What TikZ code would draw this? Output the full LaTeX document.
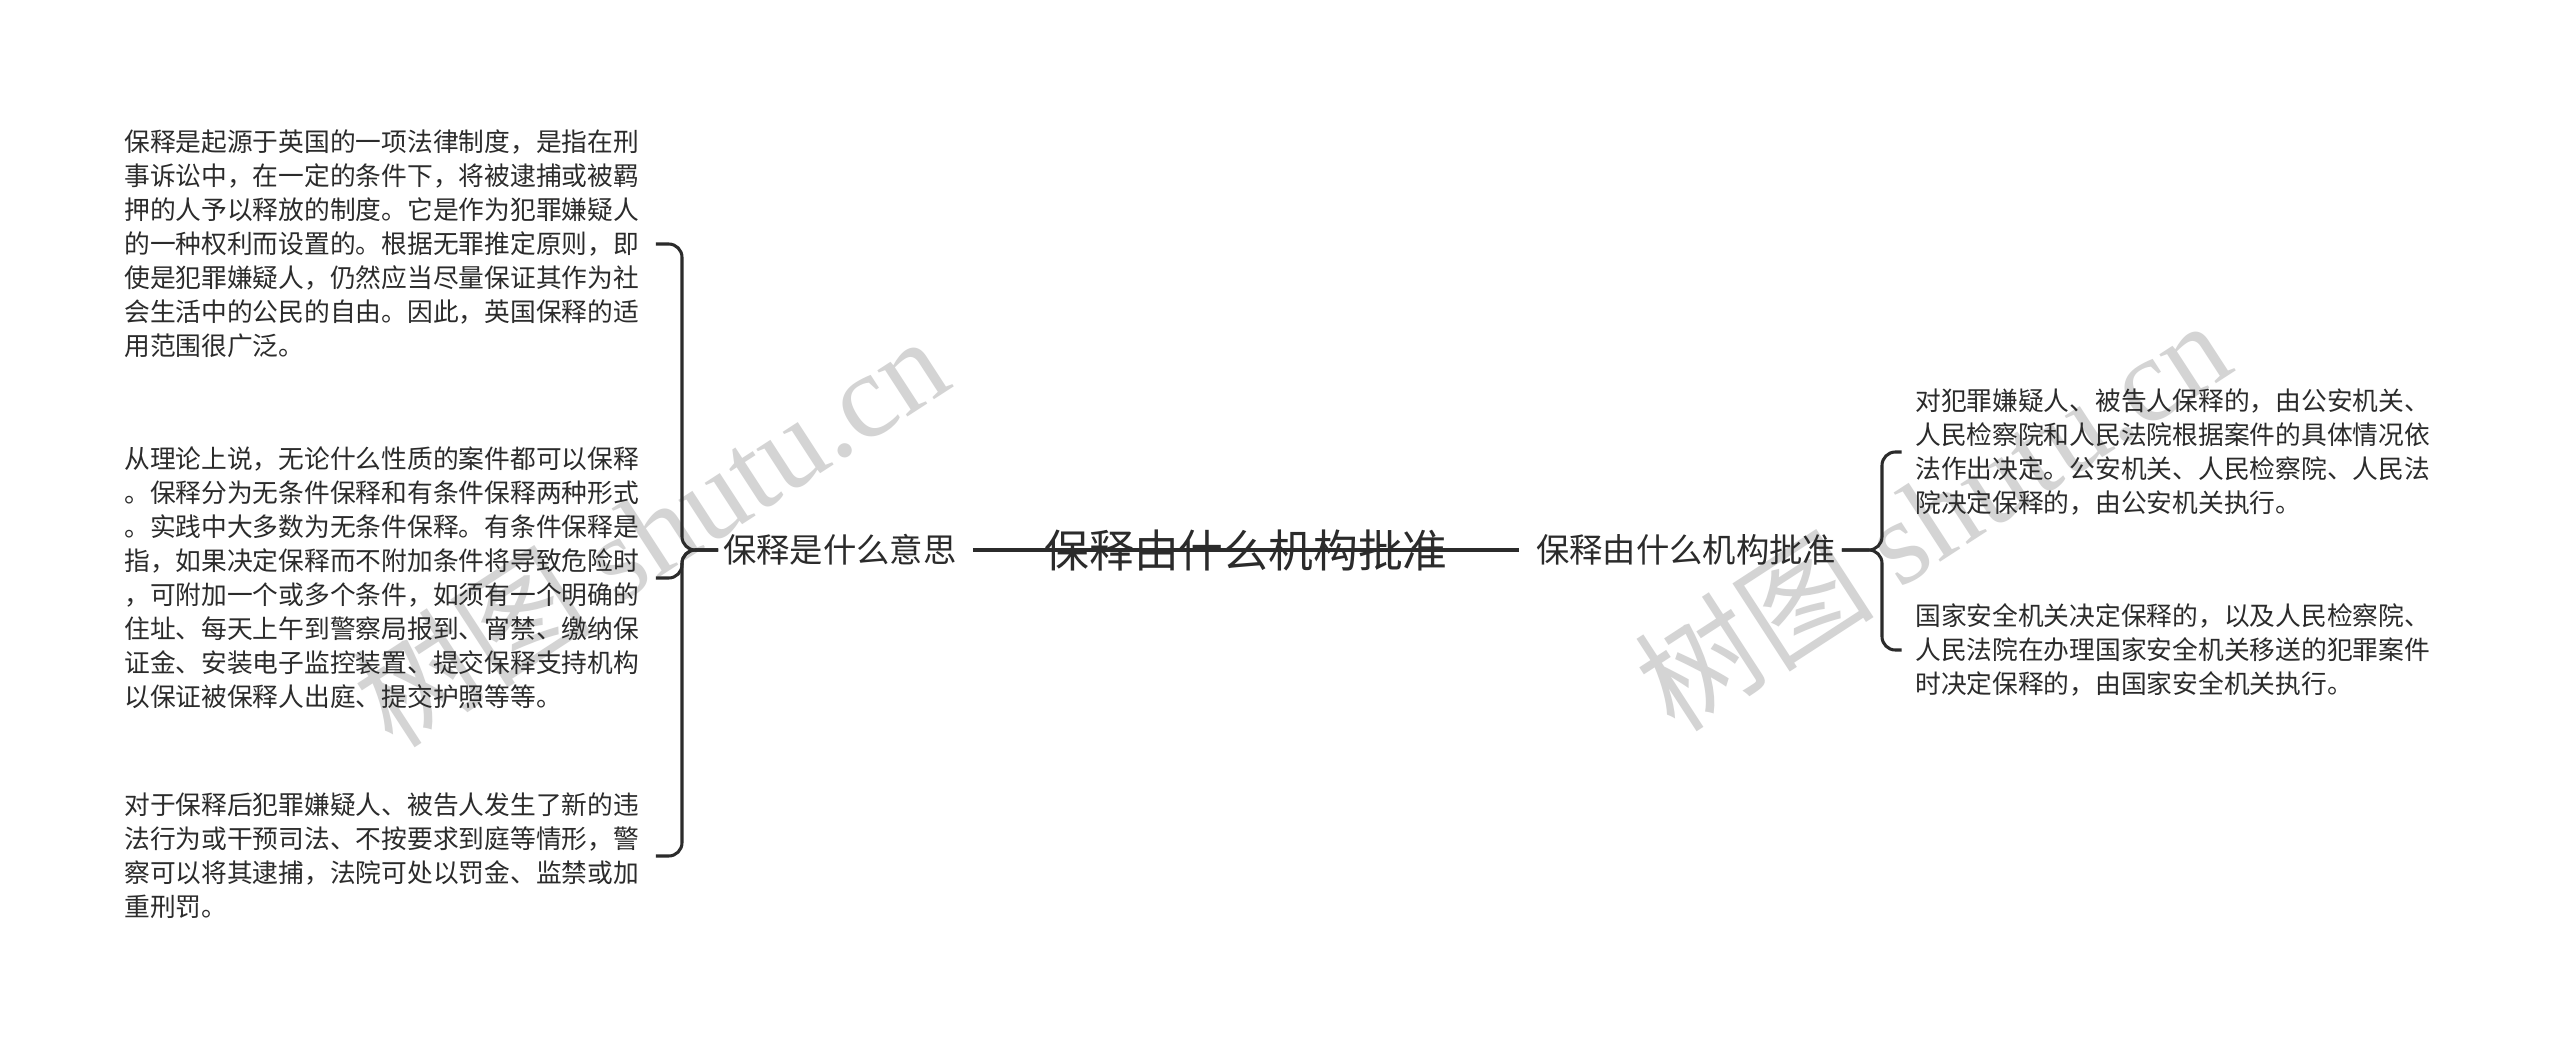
\documentclass[tikz,border=0pt]{standalone}
\usepackage{fontspec}
\setmainfont{Noto Sans CJK SC}
\newfontfamily\wmserif{Liberation Serif}
\definecolor{ink}{HTML}{2B2B2B}
\definecolor{wm}{HTML}{D4D4D4}
\tikzset{
  conn/.style={draw=ink, line width=2.3pt, rounded corners=10pt},
  leaf/.style={inner sep=0pt, align=left, text=ink, font=\fontsize{19.3pt}{25.5pt}\selectfont},
  branch/.style={inner sep=0pt, text=ink, font=\fontsize{25pt}{30pt}\selectfont},
  rootnode/.style={inner sep=0pt, text=ink, font=\fontsize{33.6pt}{40pt}\selectfont},
  wmark/.style={inner sep=0pt, text=wm, rotate=33, font=\fontsize{90pt}{94pt}\selectfont}
}
\begin{document}
\begin{tikzpicture}[x=0.75pt,y=-0.75pt]
\useasboundingbox (0,0) rectangle (2560,1049);
\fill[white] (0,0) rectangle (2560,1049);

% watermarks
\node[wmark] (wm1) at (650,530) {树图 {\wmserif shutu.cn}};
\node[wmark] (wm2) at (1932,514) {树图 {\wmserif shutu.cn}};

% root and branches
\node[rootnode] (T) at (1246,550) {保释由什么机构批准};
\node[branch, anchor=west] (L) at (723,550) {保释是什么意思};
\node[branch, anchor=west] (R) at (1536,550) {保释由什么机构批准};

% left leaves
\node[leaf, anchor=west] (c1) at (124,244) {保释是起源于英国的一项法律制度，是指在刑\\事诉讼中，在一定的条件下，将被逮捕或被羁\\押的人予以释放的制度。它是作为犯罪嫌疑人\\的一种权利而设置的。根据无罪推定原则，即\\使是犯罪嫌疑人，仍然应当尽量保证其作为社\\会生活中的公民的自由。因此，英国保释的适\\用范围很广泛。};
\node[leaf, anchor=west] (c2) at (124,578) {从理论上说，无论什么性质的案件都可以保释\\。保释分为无条件保释和有条件保释两种形式\\。实践中大多数为无条件保释。有条件保释是\\指，如果决定保释而不附加条件将导致危险时\\，可附加一个或多个条件，如须有一个明确的\\住址、每天上午到警察局报到、宵禁、缴纳保\\证金、安装电子监控装置、提交保释支持机构\\以保证被保释人出庭、提交护照等等。};
\node[leaf, anchor=west] (c3) at (124,856) {对于保释后犯罪嫌疑人、被告人发生了新的违\\法行为或干预司法、不按要求到庭等情形，警\\察可以将其逮捕，法院可处以罚金、监禁或加\\重刑罚。};

% right leaves
\node[leaf, anchor=west] (r1) at (1915,452) {对犯罪嫌疑人、被告人保释的，由公安机关、\\人民检察院和人民法院根据案件的具体情况依\\法作出决定。公安机关、人民检察院、人民法\\院决定保释的，由公安机关执行。};
\node[leaf, anchor=west] (r2) at (1915,650) {国家安全机关决定保释的，以及人民检察院、\\人民法院在办理国家安全机关移送的犯罪案件\\时决定保释的，由国家安全机关执行。};

% bracket points
\coordinate (lb) at (682,550);
\coordinate (rb) at (1882,550);

% root line through the title
\draw[conn] ([xshift=12pt]L.east) -- ([xshift=-13pt]R.west);

% left connectors
\draw[conn] ([xshift=-3.75pt]L.west) -- (lb) |- ([xshift=12.5pt]c1.east);
\draw[conn] ([xshift=-3.75pt]L.west) -- (lb) |- ([xshift=12.5pt]c2.east);
\draw[conn] ([xshift=-3.75pt]L.west) -- (lb) |- ([xshift=12.5pt]c3.east);

% right connectors
\draw[conn] ([xshift=4pt]R.east) -- (rb) |- ([xshift=-10pt]r1.west);
\draw[conn] ([xshift=4pt]R.east) -- (rb) |- ([xshift=-10pt]r2.west);
\end{tikzpicture}
\end{document}
